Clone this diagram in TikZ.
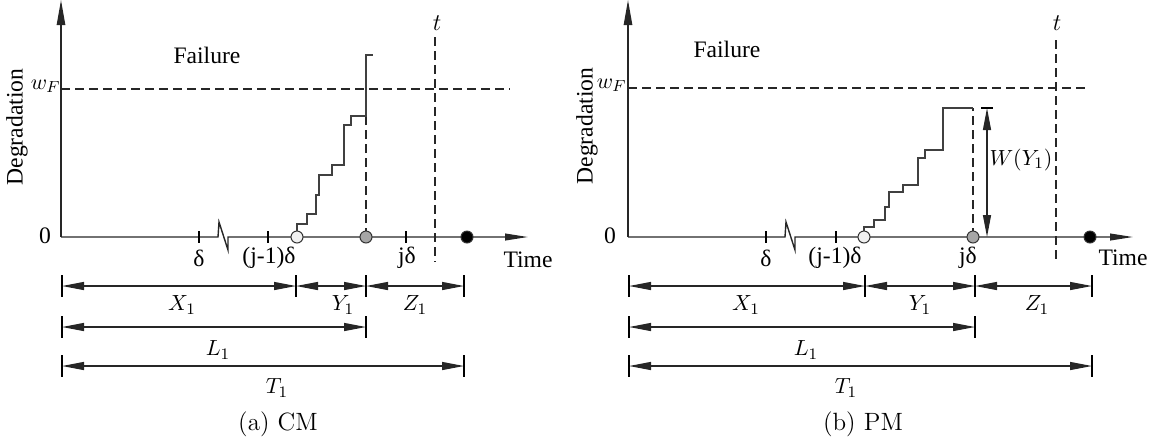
\documentclass[tikz,border=0pt]{standalone}
\usepackage{fontspec}
\newfontfamily\serif{Liberation Serif}
\usetikzlibrary{arrows.meta}
\begin{document}
\begin{tikzpicture}[x=0.5pt,y=-0.5pt,
  ax/.style={line width=0.7pt, black!85},
  dsh/.style={line width=0.55pt, dash pattern=on 4.5pt off 2.5pt, black!85},
  stair/.style={line width=0.65pt, black!75},
  tk/.style={line width=1pt, black},
  dim/.style={line width=0.65pt, black!85, {Triangle[length=11pt,width=4pt]}-{Triangle[length=11pt,width=4pt]}},
  yarr/.style={-{Triangle[length=12.5pt,width=4.2pt]}},
  xarr/.style={-{Triangle[length=11.5pt,width=3.4pt]}},
  lbl/.style={font=\serif\fontsize{11.8}{13}\selectfont, inner sep=0pt},
  mlbl/.style={font=\fontsize{10.8}{12}\selectfont, inner sep=0pt},
  captxt/.style={font=\fontsize{12.5}{14}\selectfont, inner sep=0pt},
  dot/.style={circle, draw=black!80, line width=0.5pt, minimum size=6pt, inner sep=0pt}
]
\useasboundingbox (0,0) rectangle (1157,447);

% ================= Panel (a) =================
\draw[ax,yarr] (61,237) -- (61,0);
\draw[ax,xarr] (61,237) -- (218,237) -- (219,222) -- (228,250) -- (228,237) -- (528,237);
\foreach \x in {199,268,406} \draw[tk] (\x,231) -- (\x,243);
\draw[dsh] (61,89) -- (510,89);
\draw[dsh] (435,37) -- (435,262);
\draw[dsh] (366,237) -- (366,116);
\draw[stair] (297,231) |- (307,224) |- (316,214) |- (319,195) |- (332,175) |- (344,165) |- (351,125) |- (366,116) |- (373,55);
\node[dot, fill=gray!12] (a-s) at (297,237) {};
\node[dot, fill=gray!70] (a-f) at (366,237) {};
\node[dot, fill=black] (a-r) at (467,237) {};

\node[lbl] (a-zero) at (45,236) {0};
\node[lbl, rotate=90] (a-deg) at (17,127) {Degradation};
\node[mlbl, anchor=east, font=\fontsize{11}{12}\selectfont] (a-wf) at (61,86) {$w_F$};
\node[lbl] (a-fail) at (207,55) {Failure};
\node[mlbl, font=\fontsize{11.5}{12}\selectfont] (a-t) at (437,23) {$t$};
\node[lbl] (a-d) at (199,258) {δ};
\node[lbl] (a-jm) at (269,258) {(j-1)δ};
\node[lbl] (a-jd) at (407,258) {jδ};
\node[lbl] (a-time) at (528,260) {Time};

\coordinate (a0) at (62,286);
\coordinate (a1) at (296,286);
\coordinate (a2) at (366,286);
\coordinate (a3) at (464,286);
\coordinate (aL0) at (62,327);
\coordinate (aL1) at (366,327);
\coordinate (aT0) at (62,366);
\coordinate (aT1) at (464,366);
\draw[dim] (a0) -- (a1);
\draw[dim] (a1) -- (a2);
\draw[dim] (a2) -- (a3);
\draw[dim] (aL0) -- (aL1);
\draw[dim] (aT0) -- (aT1);
\foreach \c in {a0,a1,a2,a3,aL0,aL1,aT0,aT1} \draw[tk] ([yshift=5.5pt]\c) -- ([yshift=-5.5pt]\c);
\node[mlbl] (a-x1) at (182,305) {$X_1$};
\node[mlbl] (a-y1) at (343,305) {$Y_1$};
\node[mlbl] (a-z1) at (415,305) {$Z_1$};
\node[mlbl] (a-l1) at (218,350) {$L_1$};
\node[mlbl] (a-t1) at (277,388) {$T_1$};
\node[captxt] (a-cap) at (278,424) {(a) CM};

% ================= Panel (b) =================
\draw[ax,yarr] (628,237) -- (628,0);
\draw[ax,xarr] (628,237) -- (785,237) -- (786,222) -- (795,250) -- (795,237) -- (1133,237);
\foreach \x in {766,836} \draw[tk] (\x,231) -- (\x,243);
\draw[dsh] (628,88) -- (1089,88);
\draw[dsh] (1056,40) -- (1056,262);
\draw[dsh] (973,237) -- (973,108);
\draw[stair] (864,231) |- (874,227) |- (885,220) |- (889,207) |- (903,192) |- (918,185) |- (925,158) |- (943,150) |- (973,108);
\node[dot, fill=gray!12] (b-s) at (864,237) {};
\node[dot, fill=gray!70] (b-f) at (973,237) {};
\node[dot, fill=black] (b-r) at (1090,237) {};

\coordinate (w0) at (987,108);
\coordinate (w1) at (987,237);
\draw[dim] (w0) -- (w1);
\draw[tk] ([xshift=-3pt]w0) -- ([xshift=3pt]w0);
\node[mlbl] (b-w) at (1021,160) {$W(Y_1)$};

\node[lbl] (b-zero) at (610,236) {0};
\node[lbl, rotate=90] (b-deg) at (587,126) {Degradation};
\node[mlbl, anchor=east, font=\fontsize{11}{12}\selectfont] (b-wf) at (627,85) {$w_F$};
\node[lbl] (b-fail) at (727,49) {Failure};
\node[mlbl, font=\fontsize{11.5}{12}\selectfont] (b-t) at (1057,23) {$t$};
\node[lbl] (b-d) at (766,258) {δ};
\node[lbl] (b-jm) at (835,258) {(j-1)δ};
\node[lbl] (b-jd) at (968,258) {jδ};
\node[lbl] (b-time) at (1123,258) {Time};

\coordinate (b0) at (629,286);
\coordinate (b1) at (865,286);
\coordinate (b2) at (975,286);
\coordinate (b3) at (1092,286);
\coordinate (bL0) at (629,327);
\coordinate (bL1) at (975,327);
\coordinate (bT0) at (629,366);
\coordinate (bT1) at (1092,366);
\draw[dim] (b0) -- (b1);
\draw[dim] (b1) -- (b2);
\draw[dim] (b2) -- (b3);
\draw[dim] (bL0) -- (bL1);
\draw[dim] (bT0) -- (bT1);
\foreach \c in {b0,b1,b2,b3,bL0,bL1,bT0,bT1} \draw[tk] ([yshift=5.5pt]\c) -- ([yshift=-5.5pt]\c);
\node[mlbl] (b-x1) at (746,305) {$X_1$};
\node[mlbl] (b-y1) at (920,305) {$Y_1$};
\node[mlbl] (b-z1) at (1037,305) {$Z_1$};
\node[mlbl] (b-l1) at (806,350) {$L_1$};
\node[mlbl] (b-t1) at (846,388) {$T_1$};
\node[captxt] (b-cap) at (863,424) {(b) PM};
\end{tikzpicture}
\end{document}
